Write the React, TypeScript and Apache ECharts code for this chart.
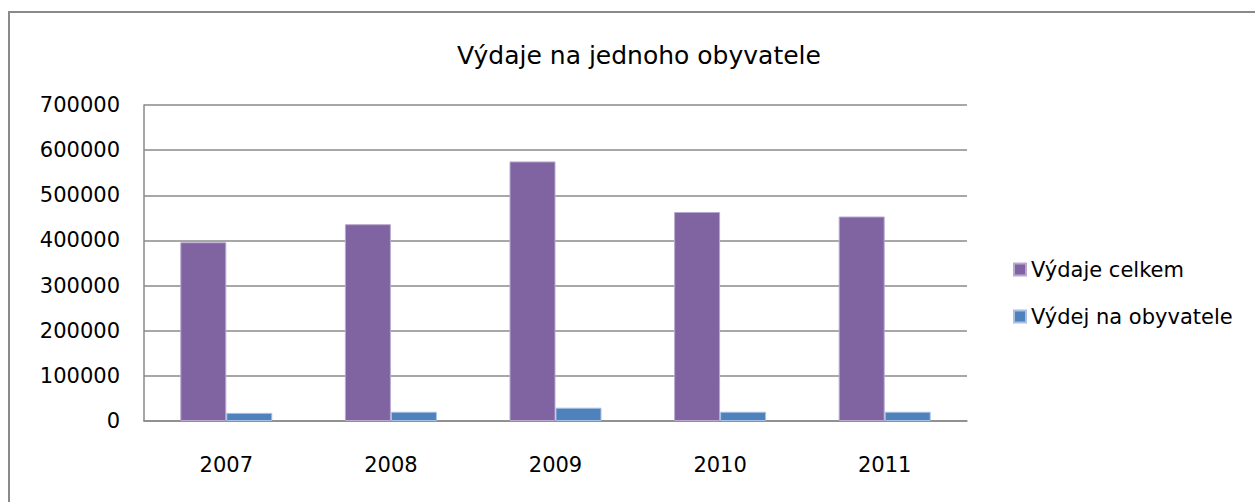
import React, { useEffect, useRef } from "react";
import * as echarts from "echarts";

const categories = ["2007", "2008", "2009", "2010", "2011"];
const vydajeCelkem = [396000, 436000, 575000, 463000, 453000];
const vydejNaObyvatele = [18000, 20500, 29500, 20500, 20500];
const seriesNames = ["Výdaje celkem", "Výdej na obyvatele"];
const titleText = "Výdaje na jednoho obyvatele";

const FONT = "DejaVu Sans";

export default function App() {
  const ref = useRef<HTMLDivElement>(null);
  useEffect(() => {
    if (!ref.current) return;
    const chart = echarts.init(ref.current, undefined, { renderer: "svg" });
    chart.setOption({
      animation: false,
      backgroundColor: "#ffffff",
      title: {
        text: titleText,
        left: 634,
        top: 38,
        textAlign: "center",
        textStyle: { fontFamily: FONT, fontSize: 25, fontWeight: "normal", color: "#000" },
      },
      legend: {
        orient: "vertical",
        left: 1008,
        top: 254,
        itemWidth: 12,
        itemHeight: 12,
        itemGap: 26,
        icon: "rect",
        textStyle: { fontFamily: FONT, fontSize: 21, color: "#000" },
        data: seriesNames,
      },
      graphic: [
        {
          type: "rect",
          shape: { x: 9, y: 12, width: 1400, height: 700 },
          style: { fill: "none", stroke: "#8a8a8a", lineWidth: 2 },
          silent: true,
        },
      ],
      grid: { left: 144, top: 105, width: 823, height: 316, containLabel: false },
      xAxis: {
        type: "category",
        data: categories,
        axisLine: { lineStyle: { color: "#8a8a8a", width: 1.5 } },
        axisTick: { show: false },
        axisLabel: { fontFamily: FONT, fontSize: 21, color: "#000", margin: 33 },
      },
      yAxis: {
        type: "value",
        min: 0,
        max: 700000,
        interval: 100000,
        axisLine: { show: true, lineStyle: { color: "#8a8a8a", width: 1.5 } },
        axisTick: { show: false },
        splitLine: { lineStyle: { color: "#8a8a8a", width: 1.5 } },
        axisLabel: {
          fontFamily: FONT,
          fontSize: 21,
          color: "#000",
          margin: 24,
          formatter: (v: number) => String(v),
        },
      },
      series: [
        {
          name: seriesNames[0],
          type: "bar",
          data: vydajeCelkem,
          barWidth: 46,
          barGap: "0%",
          itemStyle: { color: "#8064A2", borderColor: "#b9a9d0", borderWidth: 1 },
        },
        {
          name: seriesNames[1],
          type: "bar",
          data: vydejNaObyvatele,
          barWidth: 46,
          barGap: "0%",
          itemStyle: { color: "#4F81BD", borderColor: "#a9c2e3", borderWidth: 1 },
        },
      ],
    });
    return () => chart.dispose();
  }, []);
  return (
    <div
      ref={ref}
      style={{ position: "fixed", left: 0, top: 0, width: 1255, height: 502 }}
    />
  );
}
